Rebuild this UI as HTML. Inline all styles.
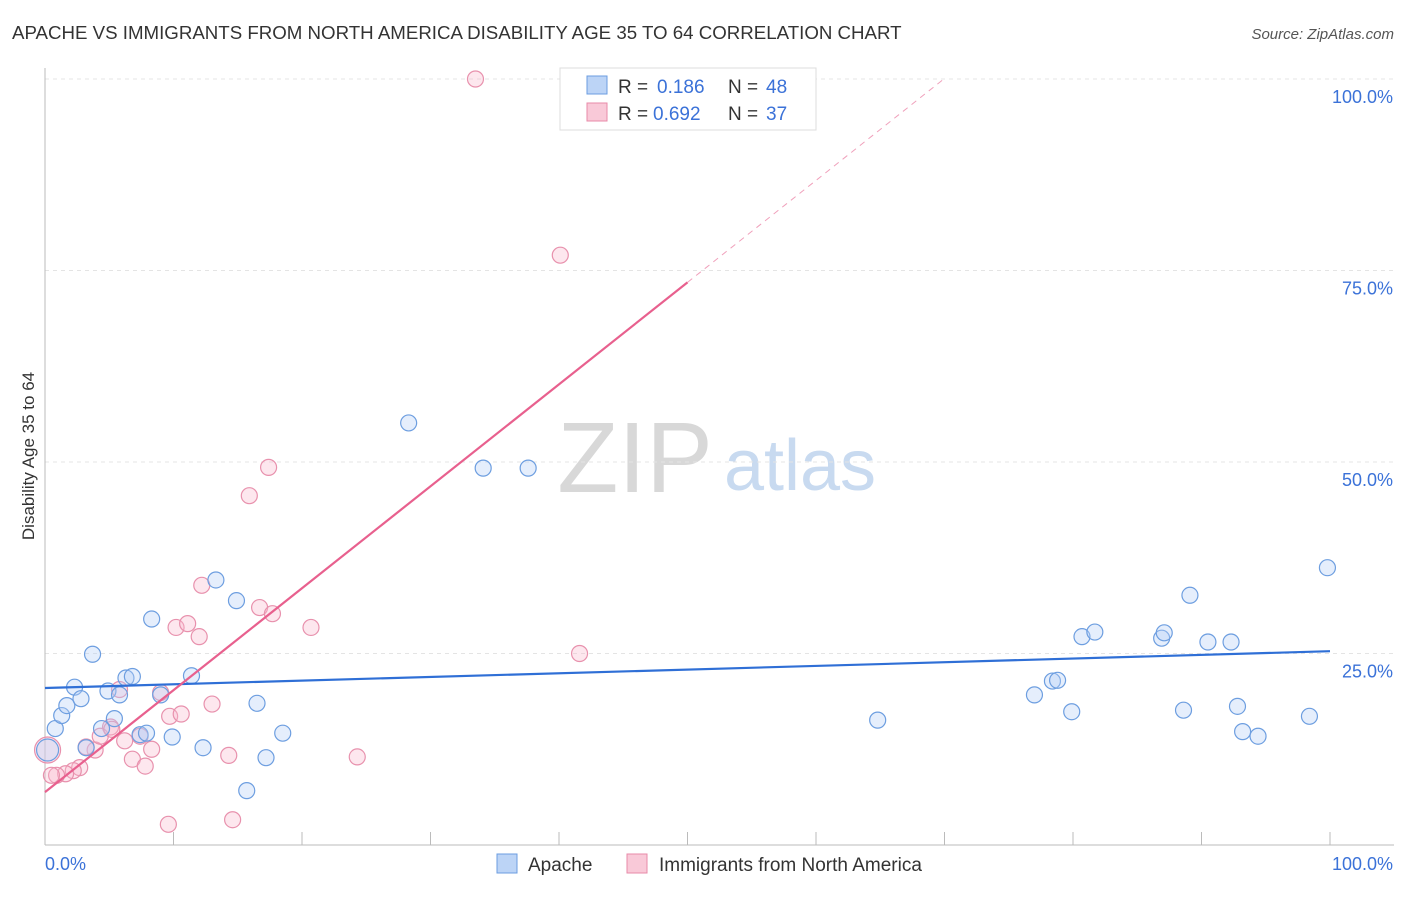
<!DOCTYPE html>
<html><head><meta charset="utf-8"><style>
body{margin:0;background:#fff;font-family:"Liberation Sans",sans-serif}
svg text{font-family:"Liberation Sans",sans-serif}
</style></head><body>
<svg id="c" width="1406" height="892">
<text x="12" y="39" font-size="18.7" fill="#333">APACHE VS IMMIGRANTS FROM NORTH AMERICA DISABILITY AGE 35 TO 64 CORRELATION CHART</text>
<text x="1394" y="39" font-size="15" fill="#555" text-anchor="end" font-style="italic">Source: ZipAtlas.com</text>
<text x="34" y="456" font-size="17" fill="#333" text-anchor="middle" transform="rotate(-90 34 456)">Disability Age 35 to 64</text>
<text x="635" y="492" font-size="100" fill="#d8d8d8" text-anchor="middle" font-family="Liberation Serif">ZIP</text>
<text x="800" y="490" font-size="72" fill="#c8daf0" text-anchor="middle">atlas</text>
<g id="grid"></g><g id="marks"></g>
<g>
<rect x="560" y="68" width="256" height="62" fill="#fff" stroke="#ddd"/>
<rect x="587" y="76" width="20" height="18" fill="#bcd4f6" stroke="#6b9de0"/>
<text x="618" y="93" font-size="19" fill="#333">R =</text>
<text x="657" y="93" font-size="19" fill="#3b72d8">0.186</text>
<text x="728" y="93" font-size="19" fill="#333">N =</text>
<text x="766" y="93" font-size="19" fill="#3b72d8">48</text>
<rect x="587" y="103" width="20" height="18" fill="#f9c9d8" stroke="#e88aa8"/>
<text x="618" y="120" font-size="19" fill="#333">R =</text>
<text x="653" y="120" font-size="19" fill="#3b72d8">0.692</text>
<text x="728" y="120" font-size="19" fill="#333">N =</text>
<text x="766" y="120" font-size="19" fill="#3b72d8">37</text>
</g>
<g>
<rect x="497" y="854" width="20" height="19" fill="#bcd4f6" stroke="#6b9de0"/>
<text x="528" y="871" font-size="19" fill="#333">Apache</text>
<rect x="627" y="854" width="20" height="19" fill="#f9c9d8" stroke="#e88aa8"/>
<text x="659" y="871" font-size="19" fill="#333">Immigrants from North America</text>
</g>
</svg>
<script>
const yTicks=[25,50,75,100];
const yTickLabels=["25.0%","50.0%","75.0%","100.0%"];
const apacheX=[0.8,1.3,1.7,2.3,2.8,3.7,3.2,4.4,4.9,5.4,5.8,6.3,6.8,7.4,7.9,8.3,9,9.9,11.4,12.3,13.3,14.9,15.7,16.5,17.2,18.5,28.3,34.1,37.6,64.8,77,78.4,78.8,79.9,80.7,81.7,86.9,87.1,88.6,89.1,90.5,92.3,92.8,93.2,94.4,98.4,99.8,0.2];
const apacheY=[15.2,16.9,18.2,20.6,19.1,24.9,12.7,15.2,20.1,16.5,19.6,21.8,22,14.4,14.6,29.5,19.6,14.1,22.1,12.7,34.6,31.9,7.1,18.5,11.4,14.6,55.1,49.2,49.2,16.3,19.6,21.4,21.5,17.4,27.2,27.8,27,27.7,17.6,32.6,26.5,26.5,18.1,14.8,14.2,16.8,36.2,12.4];
const imX=[33.5,40.1,17.4,15.9,12.2,16.7,17.7,10.2,11.1,12,20.7,41.6,9,5.8,13,9.7,10.6,5.1,7.4,6.2,8.3,3.9,3.2,6.8,7.8,14.3,24.3,2.7,2.2,1.6,0.9,0.5,9.6,14.6,4.3,5.2,0.2];
const imY=[100,77,49.3,45.6,33.9,31,30.2,28.4,28.9,27.2,28.4,25,19.9,20.3,18.4,16.8,17.1,15.4,14.2,13.6,12.5,12.4,12.8,11.2,10.3,11.7,11.5,10.1,9.7,9.3,9.1,9.1,2.7,3.3,14.2,15.1,12.4];
const apacheLine=[20.5,25.3];
const imLine=[6.9,140];
const X=v=>45+v*12.85, Y=v=>845-v*7.66;
const ns="http://www.w3.org/2000/svg";
const grid=document.getElementById('grid'),marks=document.getElementById('marks');
function mk(p,tag,a){const e=document.createElementNS(ns,tag);for(const k in a)e.setAttribute(k,a[k]);p.appendChild(e);return e;}
yTicks.forEach((t,i)=>{
 const l=mk(grid,'line',{x1:45,x2:1394,y1:Y(t),y2:Y(t),stroke:'#e4e4e4','stroke-dasharray':'4,4'});
 
 
 const tx=mk(grid,'text',{x:1393,y:Y(t)+24,'font-size':18,fill:'#3b72d8','text-anchor':'end'});tx.textContent=yTickLabels[i];
 
 
});
const ax=mk(grid,'line',{x1:45,x2:1394,y1:845,y2:845,stroke:'#bbb'});


const ay=mk(grid,'line',{x1:45,x2:45,y1:68,y2:845,stroke:'#bbb'});


for(let i=0;i<=10;i++){const t=mk(grid,'line',{x1:X(i*10),x2:X(i*10),y1:832,y2:845,stroke:'#bbb'});
 
 }
const x0=mk(grid,'text',{x:45,y:870,'font-size':18,fill:'#3b72d8'});x0.textContent='0.0%';


const x1=mk(grid,'text',{x:1393,y:870,'font-size':18,fill:'#3b72d8','text-anchor':'end'});x1.textContent='100.0%';


imX.forEach((v,i)=>{const c=mk(marks,'circle',{cx:X(v),cy:Y(imY[i]),r:i===imX.length-1?13:8,fill:'rgba(248,187,206,0.35)',stroke:'#e891ad','stroke-width':1.2});
 
 });
apacheX.forEach((v,i)=>{const c=mk(marks,'circle',{cx:X(v),cy:Y(apacheY[i]),r:i===apacheX.length-1?11:8,fill:'rgba(180,205,245,0.35)',stroke:'#6d9ee0','stroke-width':1.2});
 
 });
const bl=mk(marks,'line',{x1:X(0),y1:Y(apacheLine[0]),x2:X(100),y2:Y(apacheLine[1]),stroke:'#2f6fd6','stroke-width':2.2});


const sl=(imLine[1]-imLine[0])/100, yAt=x=>imLine[0]+sl*x;
const xTop=(100-imLine[0])/sl;
const pl=mk(marks,'line',{x1:X(0),y1:Y(yAt(0)),x2:X(50),y2:Y(yAt(50)),stroke:'#e8608e','stroke-width':2.2});


const pd=mk(marks,'line',{x1:X(50),y1:Y(yAt(50)),x2:X(xTop),y2:Y(100),stroke:'#f0a0bb','stroke-width':1,'stroke-dasharray':'6,5'});


</script>
</body></html>
